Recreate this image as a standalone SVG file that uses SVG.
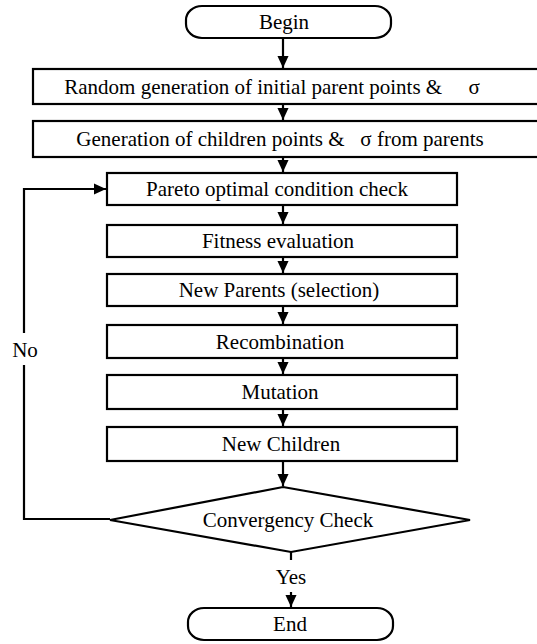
<svg xmlns="http://www.w3.org/2000/svg" width="537" height="644" viewBox="0 0 537 644">
<style>
.box{fill:#fff;stroke:#000;stroke-width:2.2}
.ln{fill:none;stroke:#000;stroke-width:2.2}
</style>
<defs>
<marker id="ah" markerWidth="12" markerHeight="13" viewBox="0 0 13 12" refX="13" refY="6" orient="auto" markerUnits="userSpaceOnUse">
<path d="M0,0 L13,6 L0,12 z" fill="#000"/>
</marker>
</defs>
<rect width="537" height="644" fill="#fff"/>
<g font-family="Liberation Serif, DejaVu Serif, serif" font-size="21" text-anchor="middle" fill="#000">
<g id="connectors">
<line class="ln" x1="283" y1="38" x2="283" y2="68" marker-end="url(#ah)"/>
<line class="ln" x1="283" y1="104" x2="283" y2="120" marker-end="url(#ah)"/>
<line class="ln" x1="283" y1="157" x2="283" y2="172" marker-end="url(#ah)"/>
<line class="ln" x1="283" y1="205" x2="283" y2="224" marker-end="url(#ah)"/>
<line class="ln" x1="283" y1="257" x2="283" y2="273" marker-end="url(#ah)"/>
<line class="ln" x1="283" y1="306" x2="283" y2="324" marker-end="url(#ah)"/>
<line class="ln" x1="283" y1="358" x2="283" y2="374" marker-end="url(#ah)"/>
<line class="ln" x1="283" y1="409" x2="283" y2="426" marker-end="url(#ah)"/>
<line class="ln" x1="283" y1="461" x2="283" y2="486" marker-end="url(#ah)"/>
<line class="ln" x1="291" y1="552" x2="291" y2="560"/>
<line class="ln" x1="291" y1="592" x2="291" y2="607" marker-end="url(#ah)"/>
<polyline class="ln" points="110,519 24,519 24,365"/>
<polyline class="ln" points="24,333 24,189 106,189" marker-end="url(#ah)"/>
<text x="25" y="357">No</text>
<text x="291" y="584">Yes</text>
</g>
<g id="begin">
<rect class="box" x="186" y="6" width="205" height="32" rx="16" ry="14"/>
<text x="284" y="29">Begin</text>
</g>
<g id="random">
<rect class="box" x="33" y="69" width="510" height="35"/>
<text x="272" y="94" xml:space="preserve">Random generation of initial parent points &amp;     σ</text>
</g>
<g id="generation">
<rect class="box" x="33" y="121" width="510" height="36"/>
<text x="280" y="146" xml:space="preserve">Generation of children points &amp;   σ from parents</text>
</g>
<g id="pareto">
<rect class="box" x="107" y="173" width="350" height="32"/>
<text x="277" y="196">Pareto optimal condition check</text>
</g>
<g id="fitness">
<rect class="box" x="107" y="225" width="350" height="32"/>
<text x="278" y="248">Fitness evaluation</text>
</g>
<g id="newparents">
<rect class="box" x="107" y="274" width="350" height="32"/>
<text x="279" y="297">New Parents (selection)</text>
</g>
<g id="recombination">
<rect class="box" x="107" y="325" width="350" height="33"/>
<text x="280" y="349">Recombination</text>
</g>
<g id="mutation">
<rect class="box" x="107" y="375" width="350" height="34"/>
<text x="280" y="399">Mutation</text>
</g>
<g id="newchildren">
<rect class="box" x="107" y="427" width="350" height="34"/>
<text x="281" y="451">New Children</text>
</g>
<g id="convergency">
<polygon class="box" points="283,487 470,520 291,552 110,520"/>
<text x="288" y="527">Convergency Check</text>
</g>
<g id="end">
<rect class="box" x="188" y="608" width="205" height="32" rx="16" ry="14"/>
<text x="290" y="631">End</text>
</g>
</g>
</svg>
